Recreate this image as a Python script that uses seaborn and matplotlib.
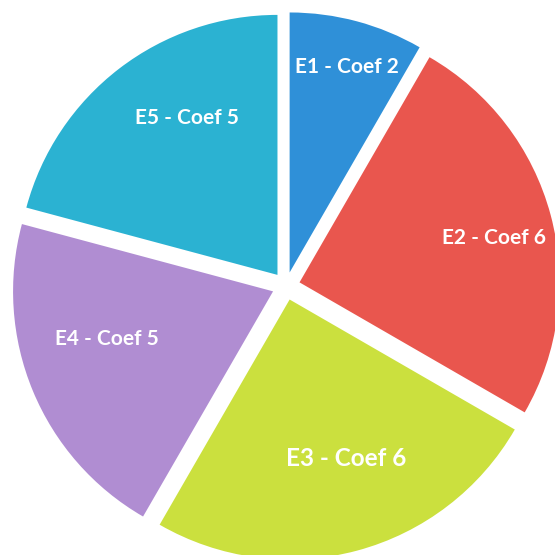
import matplotlib
matplotlib.use("Agg")
import matplotlib.pyplot as plt
import seaborn as sns
import numpy as np

# Data
labels = ["E1 - Coef 2", "E2 - Coef 6", "E3 - Coef 6", "E4 - Coef 5", "E5 - Coef 5"]
coefs = [2, 6, 6, 5, 5]
colors_hex = ["#2f90d8", "#e9564e", "#cbe03e", "#b08dd2", "#2bb2d2"]

# label layout (radial distance and angular nudge, degrees)
label_r = [0.82, 0.767, 0.65, 0.665, 0.697]
label_dang = [-0.5, -2.0, 4.5, -6.5, -7.5]
label_size = [15, 15, 17.5, 15, 15]

sns.set_theme(style="white")
plt.rcParams["font.family"] = ["Lato", "DejaVu Sans"]
palette = sns.color_palette(colors_hex)

fig = plt.figure(figsize=(5.55, 5.55), dpi=100)
ax = fig.add_axes([0, 0, 1, 1])

R = 260.0
cx, cy = 286.0, 286.0
explode = [14 / R] * len(coefs)

wedges, _ = ax.pie(
    coefs,
    colors=palette,
    startangle=90,
    counterclock=False,
    explode=explode,
    radius=1.0,
    wedgeprops=dict(linewidth=0),
)
for w, lab, r, da, fs in zip(wedges, labels, label_r, label_dang, label_size):
    ang = np.deg2rad((w.theta1 + w.theta2) / 2 + da)
    x0, y0 = w.center
    ax.text(x0 + r * np.cos(ang), y0 + r * np.sin(ang), lab,
            ha="center", va="center", color="white",
            fontweight="bold", fontsize=fs)

ax.set_xlim(-cx / R, (555 - cx) / R)
ax.set_ylim(-(555 - cy) / R, cy / R)
ax.set_aspect("equal")
ax.axis("off")

fig.savefig("out.png", dpi=100)
